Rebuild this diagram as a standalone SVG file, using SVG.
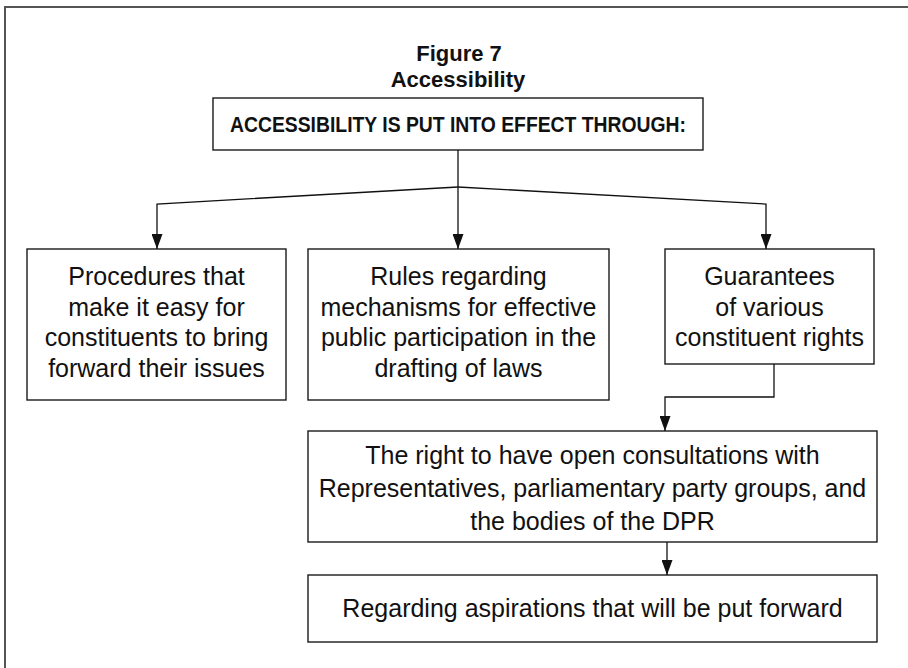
<svg xmlns="http://www.w3.org/2000/svg" width="908" height="668" viewBox="0 0 908 668">
<style>
.box{fill:#fff;stroke:#1a1a1a;stroke-width:1.4}
.t{font-family:"Liberation Sans",Arial,sans-serif;font-size:25px;fill:#111;text-anchor:middle}
.h{font-family:"Liberation Sans",Arial,sans-serif;font-size:22px;font-weight:bold;fill:#111;text-anchor:middle}
.c{fill:none;stroke:#111;stroke-width:1.3}
</style>
<defs>
<marker id="ah" markerUnits="userSpaceOnUse" markerWidth="15" markerHeight="11" refX="15" refY="5.5" orient="auto">
<path d="M0,0 L15,5.5 L0,11 z" fill="#111"/>
</marker>
</defs>
<rect width="908" height="668" fill="#fff"/>
<path d="M5,668 V7 H908" fill="none" stroke="#555" stroke-width="2"/>
<g id="title">
<text class="h" x="459" y="61">Figure 7</text>
<text class="h" x="458" y="87">Accessibility</text>
</g>
<g id="header">
<rect class="box" x="213" y="98" width="490" height="52"/>
<text class="h" x="458" y="132" textLength="456" lengthAdjust="spacingAndGlyphs">ACCESSIBILITY IS PUT INTO EFFECT THROUGH:</text>
</g>
<g id="procedures">
<rect class="box" x="27" y="249" width="259" height="151"/>
<text class="t" x="156.5" y="285">Procedures that</text>
<text class="t" x="156.5" y="315.5">make it easy for</text>
<text class="t" x="156.5" y="346">constituents to bring</text>
<text class="t" x="156.5" y="376.5">forward their issues</text>
</g>
<g id="rules">
<rect class="box" x="308" y="249" width="301" height="151"/>
<text class="t" x="458.5" y="285">Rules regarding</text>
<text class="t" x="458.5" y="315.5">mechanisms for effective</text>
<text class="t" x="458.5" y="346">public participation in the</text>
<text class="t" x="458.5" y="376.5">drafting of laws</text>
</g>
<g id="guarantees">
<rect class="box" x="665" y="249" width="209" height="115"/>
<text class="t" x="769.5" y="285">Guarantees</text>
<text class="t" x="769.5" y="315.5">of various</text>
<text class="t" x="769.5" y="346">constituent rights</text>
</g>
<g id="consultations">
<rect class="box" x="308" y="431" width="569" height="111"/>
<text class="t" x="592.5" y="464">The right to have open consultations with</text>
<text class="t" x="592.5" y="497">Representatives, parliamentary party groups, and</text>
<text class="t" x="592.5" y="530">the bodies of the DPR</text>
</g>
<g id="aspirations">
<rect class="box" x="308" y="575" width="569" height="67"/>
<text class="t" x="592.5" y="617">Regarding aspirations that will be put forward</text>
</g>
<g id="connectors">
<path class="c" d="M458,150 V249" marker-end="url(#ah)"/>
<path class="c" d="M458,187 L157,204 V249" marker-end="url(#ah)"/>
<path class="c" d="M458,187 L766,204 V249" marker-end="url(#ah)"/>
<path class="c" d="M774,364 V397 H665 V431" marker-end="url(#ah)"/>
<path class="c" d="M667,542 V575" marker-end="url(#ah)"/>
</g>
</svg>
